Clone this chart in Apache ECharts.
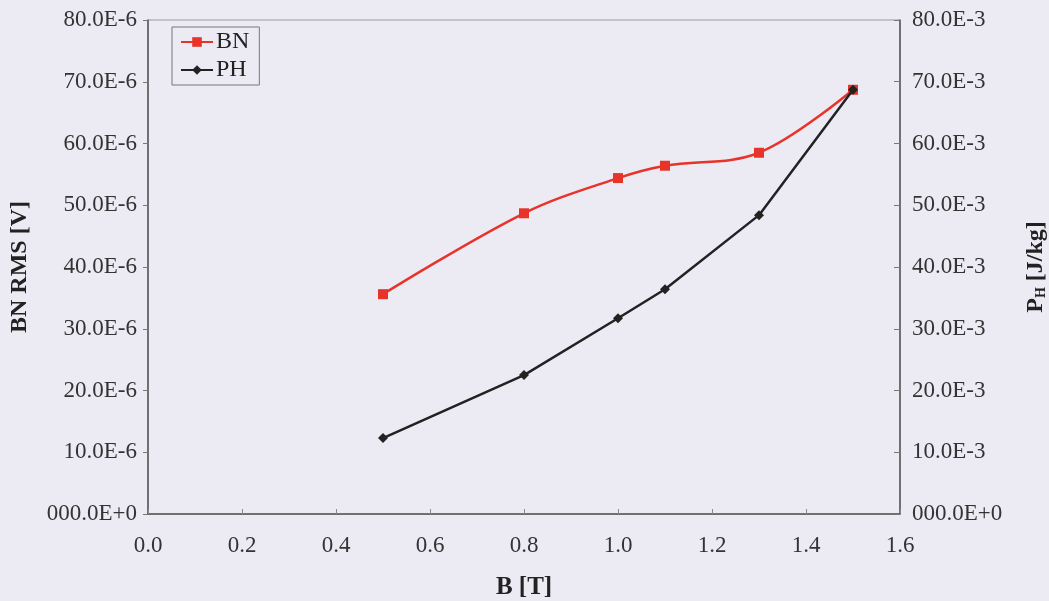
<!DOCTYPE html>
<html>
<head>
<meta charset="utf-8">
<script src="https://cdn.jsdelivr.net/npm/echarts@6/dist/echarts.min.js"></script>
<style>
html,body{margin:0;padding:0;background:#ecebf4;}
#chart{width:1049px;height:601px;}
</style>
</head>
<body>
<div id="chart"></div>
<script>
const bValues = [0.5, 0.8, 1.0, 1.1, 1.3, 1.5];
const bnValues = [35.6e-6, 48.7e-6, 54.4e-6, 56.4e-6, 58.5e-6, 68.7e-6];
const phValues = [12.3e-3, 22.5e-3, 31.7e-3, 36.4e-3, 48.4e-3, 68.7e-3];
const leftTickLabels = ['000.0E+0','10.0E-6','20.0E-6','30.0E-6','40.0E-6','50.0E-6','60.0E-6','70.0E-6','80.0E-6'];
const rightTickLabels = ['000.0E+0','10.0E-3','20.0E-3','30.0E-3','40.0E-3','50.0E-3','60.0E-3','70.0E-3','80.0E-3'];
const xTickLabels = ['0.0','0.2','0.4','0.6','0.8','1.0','1.2','1.4','1.6'];

const FONT = '"Liberation Serif", "Times New Roman", serif';
const chart = echarts.init(document.getElementById('chart'), null, {renderer: 'canvas'});
const axisColor = '#555';
chart.setOption({
  backgroundColor: '#ecebf4',
  animation: false,
  grid: {left: 148, right: 149, top: 20, bottom: 87, show: true, borderColor: '#999', borderWidth: 1,
         backgroundColor: 'transparent', containLabel: false, outerBoundsMode: 'none'},
  legend: {
    left: 172, top: 27, orient: 'vertical',
    backgroundColor: 'transparent', borderColor: '#777', borderWidth: 1,
    padding: [3, 10, 3, 8], itemGap: 4, itemWidth: 32, itemHeight: 12,
    textStyle: {fontFamily: FONT, fontSize: 24, color: '#222', padding: [0,0,0,-2]},
    data: ['BN', 'PH']
  },
  xAxis: {
    type: 'value', min: 0, max: 1.6, interval: 0.2,
    name: 'B [T]', nameLocation: 'middle', nameGap: 61,
    nameTextStyle: {fontFamily: FONT, fontSize: 25, fontWeight: 'bold', color: '#222'},
    axisLine: {lineStyle: {color: axisColor, width: 1.5}},
    axisTick: {inside: true, length: 5, lineStyle: {color: '#888'}},
    axisLabel: {fontFamily: FONT, fontSize: 23, color: '#333', margin: 20,
      formatter: (v) => xTickLabels[Math.round(v / 0.2)]},
    splitLine: {show: false}
  },
  yAxis: [{
    type: 'value', position: 'left', min: 0, max: 80e-6, interval: 10e-6,
    name: 'BN RMS [V]', nameLocation: 'middle', nameGap: 116, nameRotate: 90,
    nameTextStyle: {fontFamily: FONT, fontSize: 24, fontWeight: 'bold', color: '#222'},
    axisLine: {show: true, lineStyle: {color: axisColor, width: 1.5}},
    axisTick: {show: true, inside: false, length: 5, lineStyle: {color: '#777'}},
    axisLabel: {fontFamily: FONT, fontSize: 23, color: '#333', margin: 11,
      formatter: (v) => leftTickLabels[Math.round(v / 10e-6)]},
    splitLine: {show: false}
  }, {
    type: 'value', position: 'right', min: 0, max: 80e-3, interval: 10e-3,
    name: '{p|P}{s|H}{p| [J/kg]}', nameLocation: 'middle', nameGap: 124, nameRotate: 90,
    nameTextStyle: {fontFamily: FONT, fontSize: 24, fontWeight: 'bold', color: '#222',
      rich: {p: {fontFamily: FONT, fontSize: 24, fontWeight: 'bold', color: '#222'},
             s: {fontFamily: FONT, fontSize: 14, fontWeight: 'bold', color: '#222', verticalAlign: 'bottom', padding: [10,0,0,0]}}},
    axisLine: {show: true, lineStyle: {color: axisColor, width: 1.5}},
    axisTick: {show: true, inside: true, length: 6, lineStyle: {color: '#777'}},
    axisLabel: {fontFamily: FONT, fontSize: 23, color: '#333', margin: 12,
      formatter: (v) => rightTickLabels[Math.round(v / 10e-3)]},
    splitLine: {show: false}
  }],
  series: [{
    name: 'BN', type: 'line', yAxisIndex: 0, smooth: 0.35,
    data: bValues.map((b, i) => [b, bnValues[i]]),
    symbol: 'rect', symbolSize: 10,
    lineStyle: {color: '#e8332a', width: 2.5},
    itemStyle: {color: '#e8332a'},
    z: 3
  }, {
    name: 'PH', type: 'line', yAxisIndex: 1, smooth: false,
    data: bValues.map((b, i) => [b, phValues[i]]),
    symbol: 'diamond', symbolSize: 10,
    lineStyle: {color: '#222', width: 2.5},
    itemStyle: {color: '#222'},
    z: 4
  }]
});
</script>
</body>
</html>
